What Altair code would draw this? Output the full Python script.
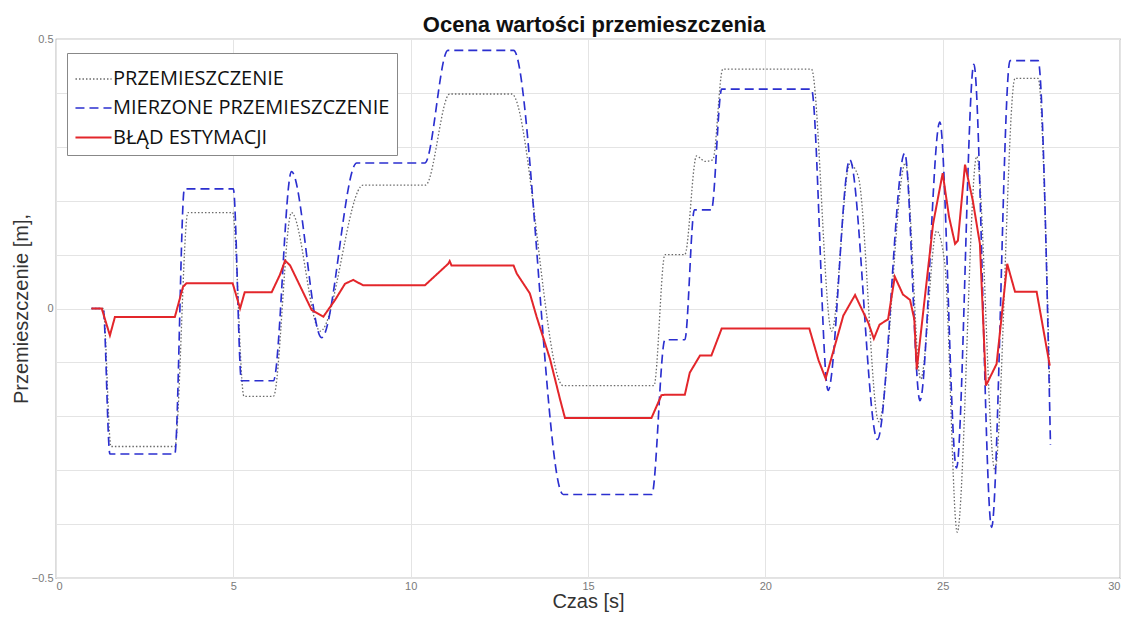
import altair as alt
import pandas as pd

# --- data ---
series_names = ["PRZEMIESZCZENIE", "MIERZONE PRZEMIESZCZENIE", "BŁĄD ESTYMACJI"]
series_colors = ["#6a6a6a", "#2b2fcf", "#e3262b"]
series_dashes = [[1.5, 2], [9, 5], [1, 0]]
series_widths = [1.3, 2.0, 1.6]

t_przem = [1.0, 1.33, 1.55, 3.35, 3.72, 4.98, 5.3, 6.13, 6.64, 7.45, 8.66, 10.42, 11.1, 12.85,
           14.3, 16.86, 17.17, 17.73, 18.06, 18.3, 18.52, 18.8, 21.3, 21.87, 22.38, 22.62, 23.2,
           23.95, 24.38, 24.83, 25.06, 25.41, 25.96, 26.47, 27.04, 27.69, 28.02]
v_przem = [0, 0, -0.256, -0.256, 0.178, 0.178, -0.163, -0.163, 0.178, -0.042, 0.229, 0.229, 0.398, 0.398,
           -0.143, -0.143, 0.1, 0.1, 0.283, 0.273, 0.276, 0.444, 0.444, -0.042, 0.268, 0.245, -0.21,
           0.27, -0.131, 0.144, 0.083, -0.415, 0.282, -0.299, 0.427, 0.427, -0.15]

t_mierz = [1.0, 1.33, 1.52, 3.35, 3.62, 5.0, 5.23, 6.13, 6.64, 7.49, 8.48, 10.4, 11.05, 12.9,
           14.3, 16.8, 17.17, 17.73, 18.0, 18.48, 18.77, 21.3, 21.77, 22.38, 23.16, 23.93, 24.36,
           24.92, 25.39, 25.88, 26.38, 26.9, 27.69, 28.04]
v_mierz = [0, 0, -0.27, -0.27, 0.222, 0.222, -0.134, -0.134, 0.254, -0.054, 0.27, 0.27, 0.479, 0.479,
           -0.345, -0.345, -0.058, -0.058, 0.183, 0.183, 0.407, 0.407, -0.152, 0.276, -0.243, 0.288, -0.171,
           0.346, -0.296, 0.453, -0.406, 0.46, 0.46, -0.253]

t_blad = [1.0, 1.29, 1.52, 1.66, 3.35, 3.58, 3.68, 4.98, 5.19, 5.32, 6.08, 6.31, 6.46, 6.6, 7.21,
          7.54, 7.87, 8.15, 8.38, 8.66, 10.4, 11.06, 11.1, 11.15, 12.9, 12.99, 13.36, 13.55, 13.93,
          14.07, 14.21, 14.35, 16.79, 17.07, 17.17, 17.73, 17.87, 18.16, 18.48, 18.77, 21.24, 21.5,
          21.7, 22.2, 22.53, 22.9, 23.06, 23.22, 23.46, 23.65, 23.88, 24.08, 24.2, 24.27, 24.73, 25.0,
          25.18, 25.35, 25.43, 25.63, 25.85, 26.05, 26.22, 26.52, 26.82, 27.04, 27.65, 28.02]
v_blad = [0, 0, -0.05, -0.016, -0.016, 0.04, 0.047, 0.047, 0.0, 0.03, 0.03, 0.062, 0.089, 0.08, -0.003,
          -0.015, 0.016, 0.046, 0.053, 0.043, 0.043, 0.083, 0.088, 0.08, 0.08, 0.065, 0.028, -0.015, -0.094,
          -0.131, -0.168, -0.203, -0.203, -0.161, -0.16, -0.16, -0.119, -0.087, -0.087, -0.037, -0.037, -0.096,
          -0.13, -0.013, 0.025, -0.026, -0.056, -0.03, -0.02, 0.059, 0.026, 0.016, -0.02, -0.113, 0.157, 0.251,
          0.17, 0.12, 0.126, 0.267, 0.2, 0.12, -0.143, -0.103, 0.083, 0.031, 0.031, -0.106]

x_ticks = [0, 5, 10, 15, 20, 25, 30]
y_ticks = [-0.5, -0.4, -0.3, -0.2, -0.1, 0.0, 0.1, 0.2, 0.3, 0.4, 0.5]

smooth = pd.concat([
    pd.DataFrame({"t": t_przem, "v": v_przem, "s": series_names[0]}),
    pd.DataFrame({"t": t_mierz, "v": v_mierz, "s": series_names[1]}),
])
error = pd.DataFrame({"t": t_blad, "v": v_blad, "s": series_names[2]})

x_enc = alt.X("t:Q", scale=alt.Scale(domain=[0, 30], nice=False),
              axis=alt.Axis(values=x_ticks, title="Czas [s]", format="d"))
y_enc = alt.Y("v:Q", scale=alt.Scale(domain=[-0.5, 0.5], nice=False),
              axis=alt.Axis(values=y_ticks, title="Przemieszczenie [m],", titleX=-25,
                            labelExpr="abs(datum.value) < 1e-9 ? '0' : (abs(abs(datum.value) - 0.5) < 1e-9 ? format(datum.value, '.1f') : '')"))
color_enc = alt.Color("s:N", scale=alt.Scale(domain=series_names, range=series_colors),
                      legend=alt.Legend(title=None, orient="none", legendX=11, legendY=14))
dash_enc = alt.StrokeDash("s:N", scale=alt.Scale(domain=series_names, range=series_dashes))
width_enc = alt.StrokeWidth("s:N", scale=alt.Scale(domain=series_names, range=series_widths), legend=None)

smooth_layer = alt.Chart(smooth).mark_line(interpolate="monotone").encode(
    x=x_enc, y=y_enc, color=color_enc, strokeDash=dash_enc, strokeWidth=width_enc)
error_layer = alt.Chart(error).mark_line().encode(
    x=x_enc, y=y_enc, color=color_enc, strokeDash=dash_enc, strokeWidth=width_enc)

chart = alt.layer(smooth_layer, error_layer).properties(
    width=1064, height=539,
    title=alt.TitleParams("Ocena wartości przemieszczenia", fontSize=22, fontWeight="bold",
                          font="Liberation Sans", color="#111", offset=1, dx=6, dy=5),
    autosize=alt.AutoSizeParams(type="none"),
    padding={"left": 48, "top": 31, "right": 1, "bottom": 34},
).configure_view(
    stroke="#8a8a8a", strokeWidth=1.2
).configure_axis(
    grid=True, gridColor="#e4e4e4", gridWidth=1, domain=False, ticks=False,
    labelColor="#7a7a7a", labelFontSize=11, labelFont="Liberation Sans", labelPadding=3,
    titleFont="Liberation Sans", titleFontSize=21, titleFontWeight="normal", titleColor="#333"
).configure_axisX(
    titlePadding=0, labelPadding=2, titleFontSize=20
).configure_axisY(
    titleFontSize=20
).configure_legend(
    strokeColor="#888", fillColor="white", padding=7, cornerRadius=0,
    labelFont="Open Sans", labelFontSize=20, labelColor="#111", labelOffset=0,
    symbolType="stroke", symbolSize=1300, symbolStrokeWidth=1.6, rowPadding=0,
    labelLimit=400
)

chart.save("out.html", embed_options={"renderer": "svg", "actions": False})
